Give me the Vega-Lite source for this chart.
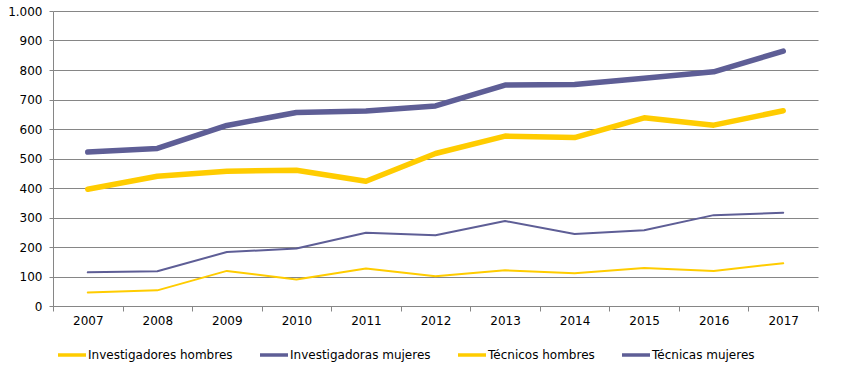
{
  "$schema": "https://vega.github.io/schema/vega-lite/v6.json",
  "width": 765,
  "height": 295,
  "autosize": {"type": "none"},
  "padding": {"left": 53, "top": 11, "right": 23, "bottom": 75},
  "background": "white",
  "config": {
    "view": {"stroke": null},
    "font": "DejaVu Sans"
  },
  "data": {
    "values": [
      {"year": "2007", "serie": "Investigadores hombres", "value": 396},
      {"year": "2008", "serie": "Investigadores hombres", "value": 440},
      {"year": "2009", "serie": "Investigadores hombres", "value": 457},
      {"year": "2010", "serie": "Investigadores hombres", "value": 460},
      {"year": "2011", "serie": "Investigadores hombres", "value": 423},
      {"year": "2012", "serie": "Investigadores hombres", "value": 517},
      {"year": "2013", "serie": "Investigadores hombres", "value": 576},
      {"year": "2014", "serie": "Investigadores hombres", "value": 571},
      {"year": "2015", "serie": "Investigadores hombres", "value": 638},
      {"year": "2016", "serie": "Investigadores hombres", "value": 613},
      {"year": "2017", "serie": "Investigadores hombres", "value": 662},
      {"year": "2007", "serie": "Investigadoras mujeres", "value": 522},
      {"year": "2008", "serie": "Investigadoras mujeres", "value": 534},
      {"year": "2009", "serie": "Investigadoras mujeres", "value": 612},
      {"year": "2010", "serie": "Investigadoras mujeres", "value": 656},
      {"year": "2011", "serie": "Investigadoras mujeres", "value": 661},
      {"year": "2012", "serie": "Investigadoras mujeres", "value": 678},
      {"year": "2013", "serie": "Investigadoras mujeres", "value": 749},
      {"year": "2014", "serie": "Investigadoras mujeres", "value": 751},
      {"year": "2015", "serie": "Investigadoras mujeres", "value": 772},
      {"year": "2016", "serie": "Investigadoras mujeres", "value": 794},
      {"year": "2017", "serie": "Investigadoras mujeres", "value": 864},
      {"year": "2007", "serie": "Técnicos hombres", "value": 46},
      {"year": "2008", "serie": "Técnicos hombres", "value": 53},
      {"year": "2009", "serie": "Técnicos hombres", "value": 119},
      {"year": "2010", "serie": "Técnicos hombres", "value": 90},
      {"year": "2011", "serie": "Técnicos hombres", "value": 127},
      {"year": "2012", "serie": "Técnicos hombres", "value": 101},
      {"year": "2013", "serie": "Técnicos hombres", "value": 121},
      {"year": "2014", "serie": "Técnicos hombres", "value": 111},
      {"year": "2015", "serie": "Técnicos hombres", "value": 129},
      {"year": "2016", "serie": "Técnicos hombres", "value": 119},
      {"year": "2017", "serie": "Técnicos hombres", "value": 145},
      {"year": "2007", "serie": "Técnicas mujeres", "value": 114},
      {"year": "2008", "serie": "Técnicas mujeres", "value": 118},
      {"year": "2009", "serie": "Técnicas mujeres", "value": 183},
      {"year": "2010", "serie": "Técnicas mujeres", "value": 195},
      {"year": "2011", "serie": "Técnicas mujeres", "value": 248},
      {"year": "2012", "serie": "Técnicas mujeres", "value": 240},
      {"year": "2013", "serie": "Técnicas mujeres", "value": 288},
      {"year": "2014", "serie": "Técnicas mujeres", "value": 244},
      {"year": "2015", "serie": "Técnicas mujeres", "value": 257},
      {"year": "2016", "serie": "Técnicas mujeres", "value": 308},
      {"year": "2017", "serie": "Técnicas mujeres", "value": 316}
    ]
  },
  "encoding": {
    "x": {
      "field": "year",
      "type": "ordinal",
      "scale": {"type": "band", "paddingInner": 0, "paddingOuter": 0},
      "axis": {
        "title": null,
        "labelAngle": 0,
        "tickBand": "extent",
        "domainColor": "#868686",
        "tickColor": "#868686",
        "tickSize": 5,
        "labelPadding": 4,
        "labelFont": "DejaVu Sans",
        "labelFontSize": 12,
        "labelColor": "#000000",
        "grid": false
      }
    },
    "y": {
      "field": "value",
      "type": "quantitative",
      "scale": {"domain": [0, 1000], "nice": false},
      "axis": {
        "title": null,
        "values": [0, 100, 200, 300, 400, 500, 600, 700, 800, 900, 1000],
        "labelExpr": "datum.value == 1000 ? '1.000' : datum.label",
        "grid": true,
        "gridColor": "#868686",
        "gridWidth": 1,
        "domain": true,
        "domainColor": "#868686",
        "tickColor": "#868686",
        "tickSize": 4,
        "labelPadding": 7,
        "labelFont": "DejaVu Sans",
        "labelFontSize": 12,
        "labelColor": "#000000"
      }
    },
    "color": {
      "field": "serie",
      "type": "nominal",
      "scale": {
        "domain": ["Investigadores hombres", "Investigadoras mujeres", "Técnicos hombres", "Técnicas mujeres"],
        "range": ["#FFCC00", "#5E5E96", "#FFCC00", "#5E5E96"]
      },
      "legend": {
        "title": null,
        "orient": "none",
        "legendX": 3,
        "legendY": 328,
        "direction": "horizontal",
        "symbolType": "stroke",
        "symbolSize": 784,
        "symbolStrokeWidth": 3.5,
        "labelFont": "DejaVu Sans",
        "labelFontSize": 12,
        "labelColor": "#000000",
        "labelOffset": 0,
        "columnPadding": 20,
        "padding": 0
      }
    }
  },
  "layer": [
    {
      "transform": [{"filter": "indexof(datum.serie, 'Investig') == 0"}],
      "mark": {"type": "line", "strokeCap": "round", "strokeJoin": "round", "strokeWidth": 5.5}
    },
    {
      "transform": [{"filter": "indexof(datum.serie, 'Investig') != 0"}],
      "mark": {"type": "line", "strokeCap": "round", "strokeJoin": "round", "strokeWidth": 2}
    }
  ]
}
